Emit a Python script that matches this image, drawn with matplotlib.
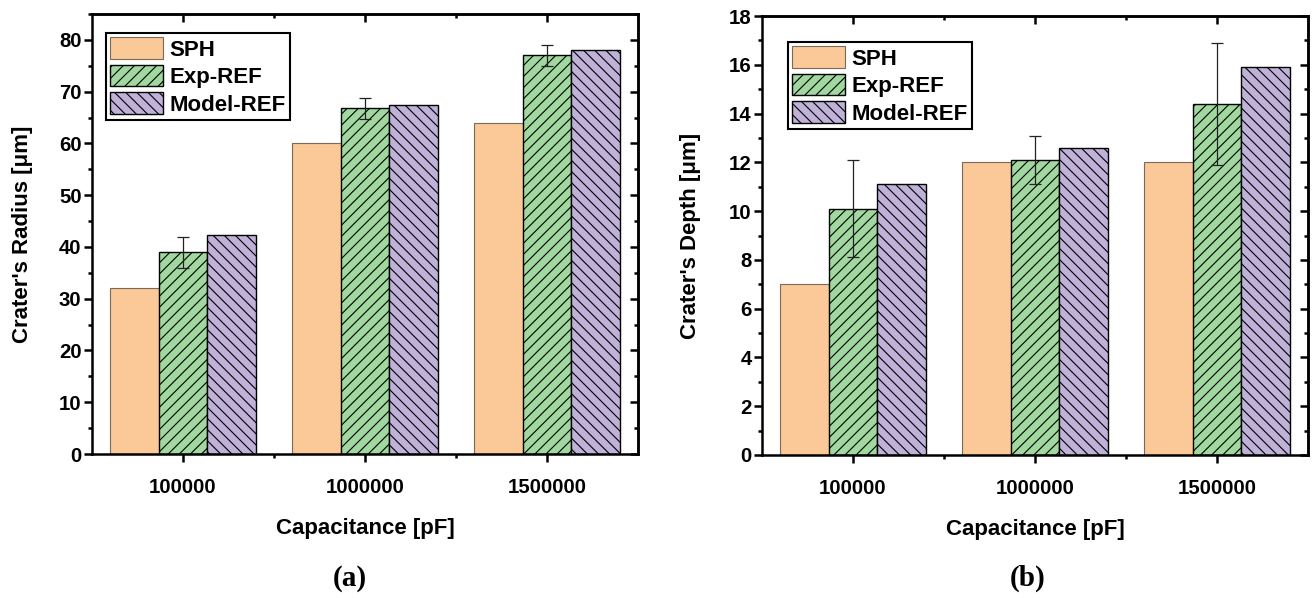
import numpy as np
import matplotlib
matplotlib.use("Agg")
import matplotlib.pyplot as plt
from matplotlib.ticker import MultipleLocator, FixedLocator

# ---- data ----
capacitance = ["100000", "1000000", "1500000"]
series = ["SPH", "Exp-REF", "Model-REF"]

radius_sph = [32, 60, 64]
radius_exp = [39, 66.8, 77]
radius_exp_err = [3, 2, 2]
radius_model = [42.4, 67.5, 78]

depth_sph = [7, 12, 12]
depth_exp = [10.1, 12.1, 14.4]
depth_exp_err = [2, 1, 2.5]
depth_model = [11.1, 12.6, 15.9]

# ---- style ----
plt.rcParams["font.family"] = ["Liberation Sans", "DejaVu Sans"]
plt.rcParams["font.weight"] = "bold"
plt.rcParams["axes.labelweight"] = "bold"
plt.rcParams["hatch.linewidth"] = 0.8
plt.rcParams["hatch.color"] = "black"

c_sph = "#FBC897"
c_exp = "#A0D8A0"
c_model = "#BFB1D8"

fig = plt.figure(figsize=(13.12, 5.98), dpi=100)
W, H = 1312, 598


def make_axes(left, right, top, bottom):
    return fig.add_axes([left / W, 1 - bottom / H, (right - left) / W, (bottom - top) / H])


def panel(ax, sph, exp, exp_err, model, ylim, major, minor, ylabel,
          ylabel_x, leg_anchor, tag, tag_x):
    x = np.arange(1, len(capacitance) + 1)
    w = 0.8 / 3
    ax.bar(x - w, sph, w, color=c_sph, edgecolor="#7a6a5a", linewidth=0.8,
           label=series[0], zorder=2)
    ax.bar(x, exp, w, color=c_exp, edgecolor="black", linewidth=1.0,
           hatch="///", label=series[1], zorder=2)
    ax.bar(x + w, model, w, color=c_model, edgecolor="black", linewidth=1.0,
           hatch="\\\\\\", label=series[2], zorder=2)
    ax.errorbar(x, exp, yerr=exp_err, fmt="none", ecolor="#222222",
                elinewidth=0.9, capsize=4, capthick=0.9, zorder=3)

    ax.set_xlim(0.5, 3.5)
    ax.set_ylim(*ylim)
    ax.set_xticks(x)
    ax.set_xticklabels(capacitance)
    ax.xaxis.set_minor_locator(FixedLocator([1.5, 2.5]))
    ax.yaxis.set_major_locator(MultipleLocator(major))
    ax.yaxis.set_minor_locator(MultipleLocator(minor))

    for s in ax.spines.values():
        s.set_linewidth(1.8)
    ax.tick_params(axis="x", which="major", direction="out", length=6, width=1.8,
                   labelsize=14.7, pad=11)
    ax.tick_params(axis="x", which="minor", direction="out", length=3, width=1.8)
    ax.tick_params(axis="y", which="major", direction="out", length=6, width=1.8,
                   labelsize=14.7, pad=1.5)
    ax.tick_params(axis="y", which="minor", direction="out", length=3, width=1.8)

    # inward ticks on the top and right edges, without labels
    top = ax.secondary_xaxis("top")
    top.set_xticks(x)
    top.xaxis.set_minor_locator(FixedLocator([1.5, 2.5]))
    top.tick_params(which="major", direction="in", length=6, width=1.8, labeltop=False)
    top.tick_params(which="minor", direction="in", length=3, width=1.8)
    top.spines["top"].set_linewidth(1.8)
    right = ax.secondary_yaxis("right")
    right.yaxis.set_major_locator(MultipleLocator(major))
    right.yaxis.set_minor_locator(MultipleLocator(minor))
    right.tick_params(which="major", direction="in", length=6, width=1.8, labelright=False)
    right.tick_params(which="minor", direction="in", length=3, width=1.8)
    right.spines["right"].set_linewidth(1.8)

    ax.set_xlabel("Capacitance [pF]", fontsize=16)
    ax.xaxis.set_label_coords(0.5, -0.145)
    ax.set_ylabel(ylabel, fontsize=16)
    ax.yaxis.set_label_coords(ylabel_x, 0.5)

    leg = ax.legend(loc="upper left", bbox_to_anchor=leg_anchor, borderaxespad=0,
                    fontsize=16, handlelength=2.35, handleheight=1.12,
                    labelspacing=0.18, handletextpad=0.3, borderpad=0.2,
                    fancybox=False, framealpha=1, edgecolor="black")
    leg.get_frame().set_linewidth(1.5)

    fig.text(tag_x / W, 1 - 578 / H, tag, fontsize=21, fontweight="bold",
             family=["Liberation Serif", "DejaVu Serif"], ha="center", va="center")


ax1 = make_axes(92, 638, 14, 454)
panel(ax1, radius_sph, radius_exp, radius_exp_err, radius_model,
      (0, 85), 10, 5, "Crater's Radius [\u03bcm]", -0.108,
      (14 / 546, 1 - 19 / 440), "(a)", 350)

ax2 = make_axes(762, 1308, 16, 455)
panel(ax2, depth_sph, depth_exp, depth_exp_err, depth_model,
      (0, 18), 2, 1, "Crater's Depth [\u03bcm]", -0.112,
      (26 / 546, 1 - 26 / 439), "(b)", 1028)

fig.savefig("out.png", dpi=100)
